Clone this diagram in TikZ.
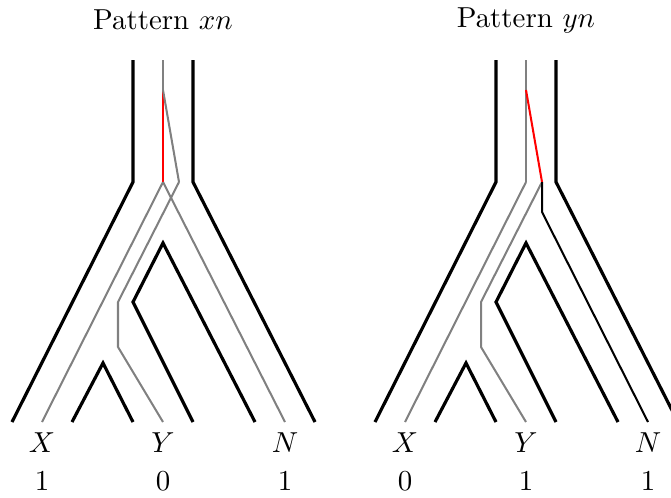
\documentclass[tikz,border=0pt]{standalone}
\begin{document}
\begin{tikzpicture}[x=0.346pt,y=-0.346pt,
  sptree/.style={line width=1.1pt, black, line join=miter},
  gene/.style={line width=0.7pt, gray, line join=miter},
  mut/.style={line width=0.7pt, red},
  geneblack/.style={line width=0.7pt, black, line join=miter},
  lab/.style={inner sep=0pt, font=\normalsize}]
\clip (0,0) rectangle (671,497);
\useasboundingbox (0,0) rectangle (671,497);
\foreach \dx/\name/\a/\b/\c in {0/xn/1/0/1, 363/yn/0/1/1}{
  \begin{scope}[shift={(\dx,0)}]
    \node[lab] (title) at (163,20) {Pattern $\name$};
    \coordinate (tl) at (133,60); \coordinate (tm) at (163,60); \coordinate (tr) at (193,60);
    \draw[sptree] (tl) -- (133,182) -- (12,422);
    \draw[sptree] (tr) -- (193,182) -- (315,422);
    \draw[sptree] (193,422) -- (133,302) -- (163,243) -- (255,422);
    \draw[sptree] (72,422) -- (103,363) -- (133,422);
    \draw[gene] (163,182) -- (42,422);
    \draw[gene] (179,182) -- (118,302) -- (118,347) -- (163,422);
    \node[lab] (lx) at (42,443) {$X$};
    \node[lab] (ly) at (163,443) {$Y$};
    \node[lab] (ln) at (285,443) {$N$};
    \node[lab] (vx) at (42,481) {\a};
    \node[lab] (vy) at (163,481) {\b};
    \node[lab] (vn) at (285,481) {\c};
  \end{scope}
}
% left panel
\draw[gene] (163,60) -- (163,90);
\draw[mut] (163,90) -- (163,182);
\draw[gene] (163,90) -- (179,182);
\draw[gene] (163,182) -- (285,422);
% right panel
\begin{scope}[shift={(363,0)}]
  \draw[gene] (163,60) -- (163,182);
  \draw[mut] (163,90) -- (179,182);
  \draw[geneblack] (179,182) -- (179,212) -- (285,422);
\end{scope}
\end{tikzpicture}
\end{document}
